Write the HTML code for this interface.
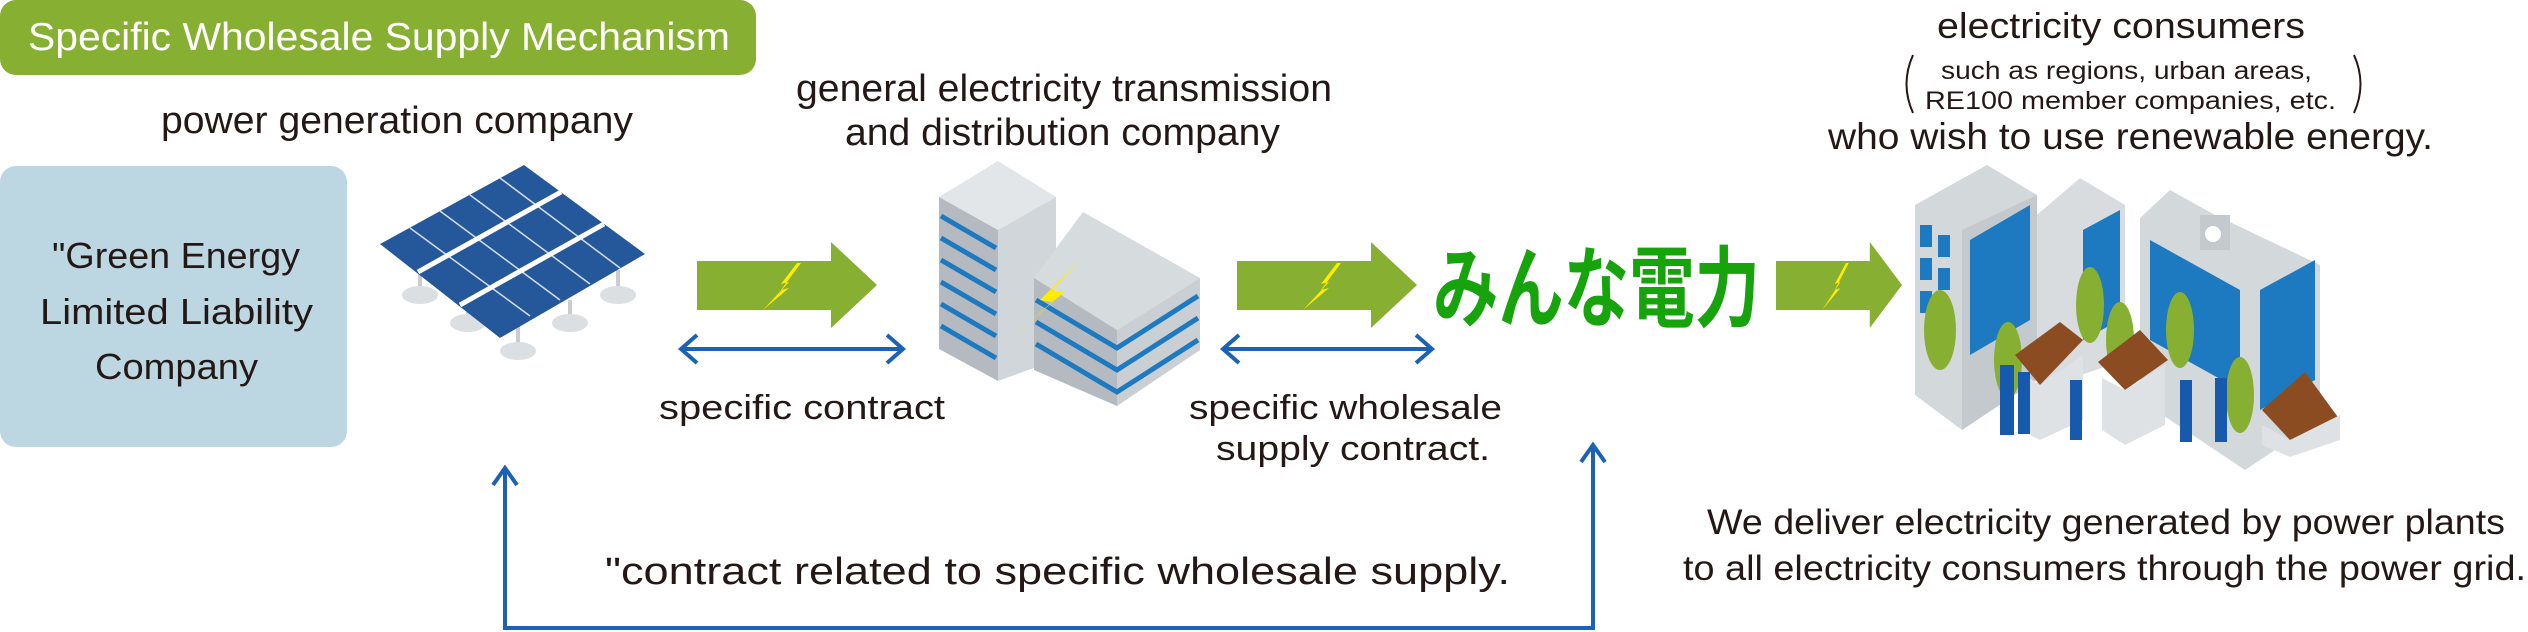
<!DOCTYPE html>
<html><head><meta charset="utf-8"><style>
body{margin:0;width:2528px;height:632px;background:#fff;overflow:hidden}
svg{position:absolute;left:0;top:0;font-family:"Liberation Sans","Noto Sans CJK JP",sans-serif}
</style></head><body>
<svg width="2528" height="632" viewBox="0 0 2528 632">
<defs>
<g id="ar"><polygon points="0,19 134,19 134,0 180,43 134,86 134,68 0,68" fill="#87b032"/><polygon points="104,21 84,48 92,46 66,68 92,40 84,42 100,21" fill="#ffec00"/></g>
</defs>
<rect x="0" y="0" width="756" height="75" rx="16" fill="#87b032"/>
<text x="28" y="50" font-size="39" fill="#fff" textLength="702" lengthAdjust="spacingAndGlyphs">Specific Wholesale Supply Mechanism</text>
<g fill="#231815">
<text x="161" y="133" font-size="38" textLength="472" lengthAdjust="spacingAndGlyphs">power generation company</text>
<text x="796" y="101" font-size="38" textLength="536" lengthAdjust="spacingAndGlyphs">general electricity transmission</text>
<text x="845" y="145" font-size="38" textLength="435" lengthAdjust="spacingAndGlyphs">and distribution company</text>
<text x="659" y="419" font-size="34" textLength="286" lengthAdjust="spacingAndGlyphs">specific contract</text>
<text x="1189" y="419" font-size="34" textLength="313" lengthAdjust="spacingAndGlyphs">specific wholesale</text>
<text x="1216" y="460" font-size="34" textLength="274" lengthAdjust="spacingAndGlyphs">supply contract.</text>
<text x="605" y="584" font-size="38" textLength="905" lengthAdjust="spacingAndGlyphs">"contract related to specific wholesale supply.</text>
<text x="1937" y="38" font-size="36" textLength="368" lengthAdjust="spacingAndGlyphs">electricity consumers</text>
<text x="1941" y="79" font-size="25" textLength="371" lengthAdjust="spacingAndGlyphs">such as regions, urban areas,</text>
<text x="1925" y="109" font-size="25" textLength="411" lengthAdjust="spacingAndGlyphs">RE100 member companies, etc.</text>
<text x="1828" y="149" font-size="37" textLength="605" lengthAdjust="spacingAndGlyphs">who wish to use renewable energy.</text>
<text x="1707" y="534" font-size="35" textLength="798" lengthAdjust="spacingAndGlyphs">We deliver electricity generated by power plants</text>
<text x="1683" y="580" font-size="35" textLength="843" lengthAdjust="spacingAndGlyphs">to all electricity consumers through the power grid.</text>
</g>
<path d="M1913,55 Q1900,84 1913,113 M2354,55 Q2367,84 2354,113" fill="none" stroke="#231815" stroke-width="2"/>
<rect x="0" y="166" width="347" height="281" rx="16" fill="#bcd6e2"/>
<g fill="#231815" font-size="36">
<text x="52" y="268" textLength="248" lengthAdjust="spacingAndGlyphs">"Green Energy</text>
<text x="40" y="324" textLength="273" lengthAdjust="spacingAndGlyphs">Limited Liability</text>
<text x="95" y="379" textLength="163" lengthAdjust="spacingAndGlyphs">Company</text>
</g>
<use href="#ar" x="697" y="242"/>
<use href="#ar" x="1237" y="242"/>
<use href="#ar" x="1776" y="242" transform="translate(1776,242) scale(0.7,1) translate(-1776,-242)"/>
<text x="1433" y="0" font-size="68" font-weight="bold" fill="#17a30c" textLength="327" lengthAdjust="spacingAndGlyphs" transform="translate(0,320) scale(1,1.3)">みんな電力</text>
<g stroke="#1b62b4" stroke-width="4" fill="none" stroke-linejoin="miter">
<line x1="681" y1="349" x2="903" y2="349"/>
<polyline points="697,335 681,349 697,363"/><polyline points="887,335 903,349 887,363"/>
<line x1="1223" y1="349" x2="1432" y2="349"/>
<polyline points="1239,335 1223,349 1239,363"/><polyline points="1416,335 1432,349 1416,363"/>
<polyline points="505,468 505,628 1593,628 1593,445"/>
<polyline points="493,485 505,468 517,485"/><polyline points="1581,462 1593,445 1605,462"/>
</g>
<g stroke="#c9cdd0" stroke-width="4"><line x1="420" y1="270" x2="420" y2="293"/><line x1="468" y1="300" x2="468" y2="322"/><line x1="518" y1="320" x2="518" y2="350"/><line x1="570" y1="300" x2="570" y2="322"/><line x1="618" y1="270" x2="618" y2="293"/></g>
<g fill="#dcdfe1"><ellipse cx="420" cy="295" rx="18" ry="9"/><ellipse cx="468" cy="323" rx="18" ry="9"/><ellipse cx="518" cy="351" rx="18" ry="9"/><ellipse cx="570" cy="323" rx="18" ry="9"/><ellipse cx="618" cy="295" rx="18" ry="9"/></g>
<polygon points="380,244 524,165 645,254 500,338" fill="#24589a"/>
<g stroke="#fff" stroke-width="5"><line x1="418" y1="272" x2="561" y2="192"/><line x1="460" y1="305" x2="604" y2="224"/></g>
<g stroke="#fff" stroke-width="1.5" opacity="0.8"><line x1="410" y1="228" x2="530" y2="316"/><line x1="440" y1="211" x2="560" y2="300"/><line x1="470" y1="195" x2="590" y2="284"/><line x1="500" y1="178" x2="620" y2="268"/></g>
<polygon points="939,197 998,161 1056,197 998,230" fill="#e3e6e8"/>
<polygon points="939,197 998,230 998,381 939,349" fill="#b4babf"/>
<polygon points="998,230 1056,197 1056,360 998,381" fill="#d0d6d9"/>
<g stroke="#1d7ac0" stroke-width="5"><line x1="941" y1="216" x2="996" y2="248"/><line x1="941" y1="238" x2="996" y2="270"/><line x1="941" y1="260" x2="996" y2="292"/><line x1="941" y1="282" x2="996" y2="314"/><line x1="941" y1="304" x2="996" y2="336"/><line x1="941" y1="326" x2="996" y2="358"/></g>
<polygon points="1034,278 1083,212 1200,278 1117,330" fill="#d6dbde"/>
<polygon points="1034,278 1117,330 1117,406 1034,370" fill="#b4babf"/>
<polygon points="1117,330 1200,278 1200,350 1117,406" fill="#c9cfd3"/>
<g stroke="#1d7ac0" stroke-width="5" fill="none"><polyline points="1036,300 1117,348 1198,296"/><polyline points="1036,322 1117,370 1198,318"/><polyline points="1036,344 1117,392 1198,340"/></g>
<polygon points="1088,252 1040,300 1052,302 1004,345 1064,292 1052,290" fill="#ffec00"/>
<polygon points="1915,205 1987,165 2037,195 2037,380 1962,430 1915,395" fill="#d3d8db"/>
<polygon points="1962,230 2037,195 2037,380 1962,430" fill="#c3c9cd"/>
<polygon points="2037,215 2080,178 2125,205 2125,360 2037,390" fill="#d8dcdf"/>
<polygon points="2140,218 2170,190 2215,215 2320,265 2320,420 2245,470 2140,400" fill="#d3d8db"/>
<rect x="2200" y="215" width="30" height="35" fill="#c3c9cd"/><circle cx="2213" cy="234" r="8" fill="#fff"/>
<g fill="#1d7ac0">
<rect x="1920" y="225" width="12" height="22"/><rect x="1938" y="235" width="12" height="22"/><rect x="1920" y="258" width="12" height="22"/><rect x="1938" y="268" width="12" height="22"/><rect x="1920" y="291" width="12" height="22"/><rect x="1938" y="301" width="12" height="22"/>
<polygon points="1970,240 2030,205 2030,320 1970,355"/>
<polygon points="2083,230 2120,210 2120,320 2083,340"/>
<polygon points="2150,240 2240,290 2240,390 2150,340"/>
<polygon points="2260,290 2315,260 2315,380 2260,410"/>
</g>
<g fill="#87b032"><ellipse cx="1940" cy="330" rx="16" ry="40"/><ellipse cx="2008" cy="360" rx="14" ry="38"/><ellipse cx="2090" cy="305" rx="14" ry="38"/><ellipse cx="2120" cy="340" rx="14" ry="38"/><ellipse cx="2180" cy="330" rx="14" ry="38"/><ellipse cx="2240" cy="395" rx="14" ry="38"/></g>
<g fill="#8b4c22"><polygon points="2015,355 2060,322 2083,340 2040,385"/><polygon points="2098,362 2140,330 2168,360 2125,390"/><polygon points="2262,410 2305,372 2340,420 2290,440"/></g>
<g fill="#dfe2e4"><polygon points="2020,372 2040,385 2040,440 2020,430"/><polygon points="2040,385 2083,355 2083,420 2040,440"/><polygon points="2102,378 2125,390 2125,445 2102,430"/><polygon points="2125,390 2165,365 2165,425 2125,445"/><polygon points="2262,425 2290,440 2290,457 2262,445"/><polygon points="2290,440 2340,415 2340,440 2290,457"/></g>
<g fill="#1659ad"><rect x="2000" y="365" width="14" height="70"/><rect x="2018" y="372" width="12" height="62"/><rect x="2070" y="380" width="12" height="60"/><rect x="2180" y="380" width="12" height="62"/><rect x="2215" y="378" width="12" height="64"/></g>
</svg>
</body></html>
